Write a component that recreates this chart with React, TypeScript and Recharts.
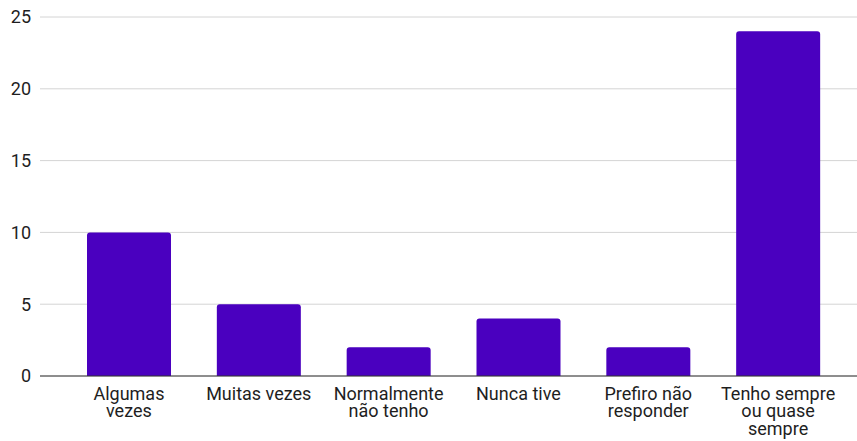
import React from "react";
import { BarChart, Bar, XAxis, YAxis, CartesianGrid } from "recharts";

const categories = [
  "Algumas vezes",
  "Muitas vezes",
  "Normalmente não tenho",
  "Nunca tive",
  "Prefiro não responder",
  "Tenho sempre ou quase sempre",
];
const counts = [10, 5, 2, 4, 2, 24];
const yTicks = [0, 5, 10, 15, 20, 25];

const data = categories.map((name, i) => ({ name, value: counts[i] }));

const FONT = "Roboto, 'Noto Sans', Arial, sans-serif";
const X_FONT_SIZE = 18;
const Y_FONT_SIZE = 18;
const WRAP_WIDTH = 119;

let ctx: CanvasRenderingContext2D | null = null;
function measure(s: string): number {
  if (!ctx && typeof document !== "undefined") {
    const c = document.createElement("canvas");
    ctx = c.getContext("2d");
  }
  if (ctx) {
    ctx.font = `${X_FONT_SIZE}px Roboto`;
    return ctx.measureText(s).width;
  }
  return s.length * X_FONT_SIZE * 0.52;
}

function wrap(label: string): string[] {
  const words = label.split(" ");
  const lines: string[] = [];
  let cur = "";
  for (const w of words) {
    const test = cur ? cur + " " + w : w;
    if (cur && measure(test) > WRAP_WIDTH) {
      lines.push(cur);
      cur = w;
    } else {
      cur = test;
    }
  }
  if (cur) lines.push(cur);
  return lines;
}

const XTick = (props: any) => {
  const { x, y, payload } = props;
  const lines = wrap(String(payload.value));
  return (
    <text
      x={x}
      y={y}
      textAnchor="middle"
      fill="#1e1e1e"
      fontSize={X_FONT_SIZE}
      fontFamily={FONT}
    >
      {lines.map((l, i) => (
        <tspan key={i} x={x} dy={i === 0 ? 23.5 : 17.5}>
          {l}
        </tspan>
      ))}
    </text>
  );
};

export default function App() {
  return (
    <div style={{ position: "absolute", left: 0, top: 0, background: "#fff" }}>
      <BarChart
        width={857}
        height={441}
        data={data}
        margin={{ top: 17, right: 0, bottom: 0, left: 0 }}
        barCategoryGap={23}
      >
        <CartesianGrid vertical={false} stroke="#d4d4d4" strokeWidth={1} />
        <XAxis
          dataKey="name"
          interval={0}
          height={65}
          tickLine={false}
          tickSize={0}
          tickMargin={0}
          axisLine={{ stroke: "#333333", strokeWidth: 1 }}
          padding={{ left: 24, right: 14 }}
          tick={<XTick />}
        />
        <YAxis
          width={40}
          domain={[0, 25]}
          ticks={yTicks}
          axisLine={false}
          tickLine={false}
          tickSize={0}
          tickMargin={9}
          tick={{ fill: "#1e1e1e", fontSize: Y_FONT_SIZE, fontFamily: FONT }}
        />
        <Bar
          dataKey="value"
          fill="#4a00bf"
          radius={[3, 3, 0, 0]}
          isAnimationActive={false}
        />
      </BarChart>
    </div>
  );
}
